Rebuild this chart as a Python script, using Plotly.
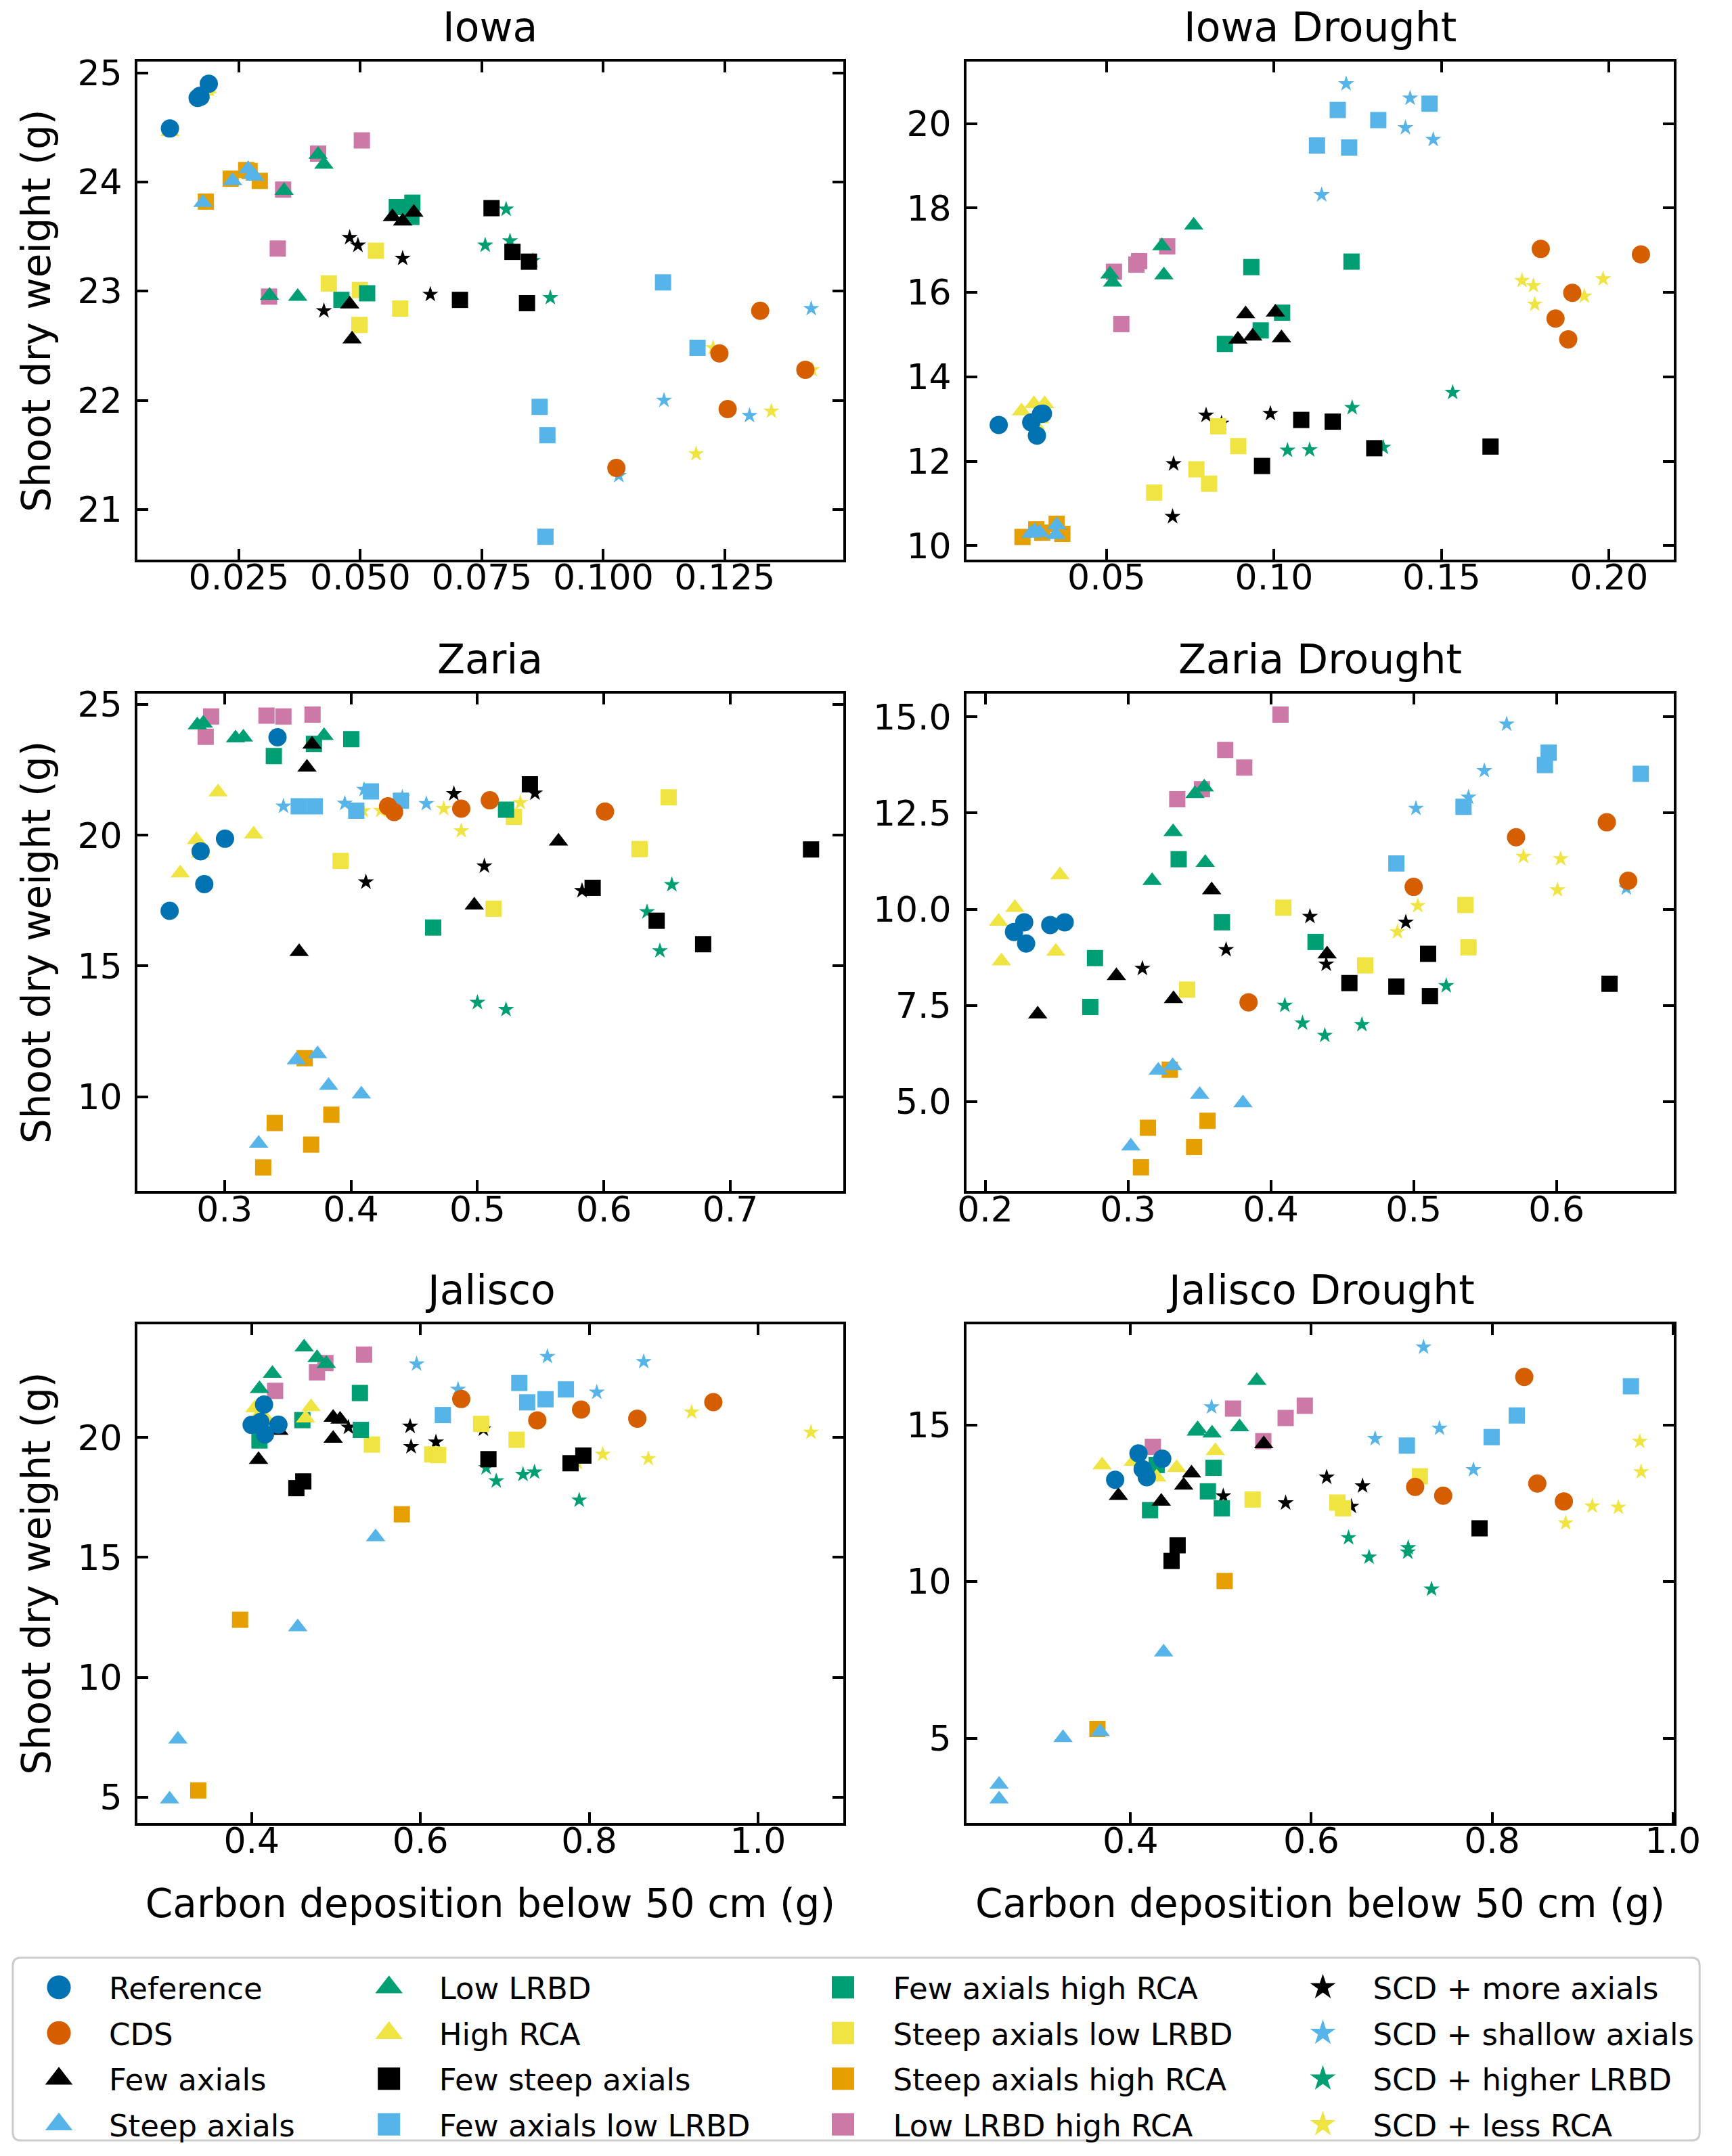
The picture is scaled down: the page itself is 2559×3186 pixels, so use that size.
import plotly.graph_objects as go

# ---------------- data ----------------
SERIES = ["Reference", "CDS", "Few axials", "Steep axials", "Low LRBD", "High RCA",
          "Few steep axials", "Few axials low LRBD", "Few axials high RCA",
          "Steep axials low LRBD", "Steep axials high RCA", "Low LRBD high RCA",
          "SCD + more axials", "SCD + shallow axials", "SCD + higher LRBD", "SCD + less RCA"]
PANELS = ["Iowa", "Iowa Drought", "Zaria", "Zaria Drought", "Jalisco", "Jalisco Drought"]
X_TITLE = "Carbon deposition below 50 cm (g)"
Y_TITLE = "Shoot dry weight (g)"

iowa_x = [
    [0.0108, 0.0165, 0.0171, 0.0188, 0.0170],
    [0.1323, 0.1239, 0.1416, 0.1256, 0.1027],
    [0.0566, 0.0587, 0.0610, 0.0478, 0.0483],
    [0.0176, 0.0237, 0.0269, 0.0283, 0.0278],
    [0.0413, 0.0425, 0.0343, 0.0313, 0.0371],
    [0.0108, 0.0168, 0.0180, 0.0172, 0.0185],
    [0.0770, 0.0813, 0.0847, 0.0705, 0.0843],
    [0.1123, 0.1194, 0.0869, 0.0885, 0.0881],
    [0.0575, 0.0607, 0.0605, 0.0461, 0.0514],
    [0.0532, 0.0435, 0.0499, 0.0582, 0.0498],
    [0.0233, 0.0265, 0.0272, 0.0293, 0.0182],
    [0.0503, 0.0413, 0.0341, 0.0330, 0.0312],
    [0.0478, 0.0495, 0.0587, 0.0644, 0.0425],
    [0.1428, 0.1125, 0.1301, 0.1032],
    [0.0800, 0.0757, 0.0808, 0.0855, 0.0891],
    [0.1226, 0.1430, 0.1346, 0.1191, 0.1025],
]
iowa_y = [
    [24.49, 24.77, 24.78, 24.90, 24.79],
    [22.82, 22.43, 22.28, 21.92, 21.38],
    [23.68, 23.64, 23.72, 22.88, 22.56],
    [23.81, 24.01, 24.12, 24.05, 24.07],
    [24.25, 24.16, 23.92, 22.96, 22.95],
    [24.46, 24.76, 24.83, 24.80, 24.85],
    [23.76, 23.36, 23.27, 22.92, 22.89],
    [23.08, 22.48, 21.94, 21.68, 20.75],
    [23.77, 23.81, 23.68, 22.92, 22.98],
    [23.37, 23.07, 23.01, 22.84, 22.69],
    [24.03, 24.11, 24.10, 24.01, 23.82],
    [24.38, 24.26, 23.93, 23.39, 22.95],
    [23.49, 23.42, 23.30, 22.97, 22.82],
    [22.84, 22.00, 21.86, 21.31],
    [23.75, 23.42, 23.46, 23.28, 22.94],
    [22.48, 22.28, 21.90, 21.51, 21.36],
]

iowa_drought_x = [
    [0.0178, 0.0275, 0.0304, 0.0292, 0.0310],
    [0.1796, 0.2095, 0.1890, 0.1840, 0.1878],
    [0.0915, 0.1004, 0.0892, 0.0936, 0.1022],
    [0.0274, 0.0301, 0.0351, 0.0349, 0.0285],
    [0.0760, 0.0665, 0.0671, 0.0510, 0.0518],
    [0.0246, 0.0283, 0.0315, 0.0287, 0.0300],
    [0.1081, 0.1175, 0.1299, 0.1646, 0.0964],
    [0.1190, 0.1464, 0.1311, 0.1128, 0.1224],
    [0.0932, 0.1231, 0.1024, 0.0960, 0.0853],
    [0.0833, 0.0893, 0.0768, 0.0806, 0.0642],
    [0.0249, 0.0290, 0.0351, 0.0368, 0.0308],
    [0.0522, 0.0589, 0.0597, 0.0681, 0.0544],
    [0.0797, 0.0843, 0.0989, 0.0700, 0.0697],
    [0.1215, 0.1406, 0.1392, 0.1475, 0.1142],
    [0.1533, 0.1233, 0.1040, 0.1106, 0.1326],
    [0.1740, 0.1774, 0.1778, 0.1926, 0.1982],
]
iowa_drought_y = [
    [12.86, 12.92, 13.12, 12.61, 13.13],
    [17.03, 16.90, 15.99, 15.38, 14.89],
    [15.49, 15.53, 14.89, 14.96, 14.92],
    [10.29, 10.31, 10.49, 10.26, 10.35],
    [17.59, 17.10, 16.41, 16.43, 16.24],
    [13.19, 13.36, 13.36, 12.86, 13.00],
    [12.98, 12.94, 12.31, 12.35, 11.89],
    [20.32, 20.47, 20.08, 19.48, 19.43],
    [16.60, 16.73, 15.52, 15.10, 14.78],
    [12.83, 12.36, 11.81, 11.47, 11.26],
    [10.21, 10.39, 10.52, 10.28, 10.31],
    [16.49, 16.66, 16.74, 17.09, 15.25],
    [13.09, 12.90, 13.13, 11.94, 10.69],
    [20.94, 20.60, 19.90, 19.62, 18.31],
    [13.63, 13.27, 12.26, 12.27, 12.33],
    [16.28, 16.16, 15.72, 15.91, 16.32],
]

zaria_x = [
    [0.3419, 0.3004, 0.2811, 0.2840, 0.2566],
    [0.4293, 0.4341, 0.4872, 0.5098, 0.6009],
    [0.3692, 0.3652, 0.5641, 0.4975, 0.3590],
    [0.3568, 0.3736, 0.3823, 0.4082, 0.3270],
    [0.2785, 0.2832, 0.3087, 0.3149, 0.3787],
    [0.2949, 0.3230, 0.2778, 0.2650, 0.2810],
    [0.5415, 0.5911, 0.6417, 0.6785, 0.7638],
    [0.3587, 0.3714, 0.4158, 0.4042, 0.4395],
    [0.3390, 0.3707, 0.4002, 0.5226, 0.4650],
    [0.3918, 0.5288, 0.5128, 0.6282, 0.6512],
    [0.3634, 0.3845, 0.3397, 0.3685, 0.3306],
    [0.2894, 0.3332, 0.3466, 0.3696, 0.2851],
    [0.4814, 0.5455, 0.5055, 0.4118, 0.5827],
    [0.3466, 0.3951, 0.4104, 0.4406, 0.4596],
    [0.6537, 0.6341, 0.6443, 0.5000, 0.5226],
    [0.4235, 0.4734, 0.5339, 0.4872, 0.4097],
]
zaria_y = [
    [23.75, 19.87, 19.39, 18.13, 17.11],
    [21.11, 20.89, 21.02, 21.34, 20.91],
    [23.48, 22.60, 19.77, 17.32, 15.54],
    [11.40, 11.63, 10.42, 10.09, 8.21],
    [24.22, 24.28, 23.72, 23.75, 23.81],
    [21.65, 20.04, 19.83, 18.55, 19.30],
    [21.95, 17.99, 16.73, 15.83, 19.46],
    [21.11, 21.11, 21.68, 20.94, 21.32],
    [23.03, 23.50, 23.68, 20.98, 16.47],
    [19.02, 20.71, 17.19, 19.47, 21.45],
    [11.47, 9.31, 8.99, 8.16, 7.29],
    [24.55, 24.58, 24.55, 24.62, 23.77],
    [21.59, 21.61, 18.82, 18.21, 17.88],
    [21.11, 21.22, 21.75, 21.45, 21.21],
    [18.11, 17.07, 15.58, 13.60, 13.33],
    [20.95, 21.02, 21.25, 20.17, 20.94],
]

zaria_drought_x = [
    [0.2274, 0.2202, 0.2287, 0.2456, 0.2557],
    [0.5717, 0.6352, 0.5000, 0.6502, 0.3844],
    [0.3586, 0.4394, 0.2919, 0.3319, 0.2368],
    [0.3212, 0.3313, 0.3502, 0.3805, 0.3020],
    [0.3469, 0.3534, 0.3316, 0.3541, 0.3169],
    [0.2524, 0.2208, 0.2094, 0.2495, 0.2114],
    [0.5101, 0.4550, 0.4879, 0.5114, 0.6371],
    [0.5945, 0.5919, 0.6590, 0.5349, 0.4879],
    [0.3355, 0.3658, 0.4313, 0.2769, 0.2736],
    [0.4088, 0.5362, 0.5384, 0.4661, 0.3414],
    [0.3293, 0.3557, 0.3140, 0.3463, 0.3091],
    [0.4068, 0.3681, 0.3814, 0.3345, 0.3518],
    [0.4274, 0.4945, 0.3687, 0.4388, 0.3101],
    [0.5651, 0.5495, 0.5384, 0.5016, 0.6489],
    [0.5228, 0.4098, 0.4222, 0.4378, 0.4638],
    [0.5769, 0.6029, 0.6007, 0.5029, 0.4886],
]
zaria_drought_y = [
    [9.66, 9.41, 9.11, 9.59, 9.66],
    [11.87, 12.26, 10.58, 10.74, 7.58],
    [10.50, 8.83, 8.27, 7.67, 7.27],
    [5.81, 5.93, 5.18, 4.96, 3.84],
    [13.00, 13.17, 12.01, 11.21, 10.74],
    [10.89, 10.04, 9.68, 8.90, 8.65],
    [8.84, 8.08, 7.99, 7.74, 8.06],
    [14.07, 13.75, 13.52, 12.66, 11.19],
    [11.30, 9.66, 9.15, 8.73, 7.46],
    [10.04, 10.11, 9.01, 8.54, 7.91],
    [5.83, 4.50, 4.32, 3.82, 3.29],
    [15.06, 14.14, 13.68, 12.86, 13.12],
    [9.81, 9.66, 8.95, 8.57, 8.46],
    [14.81, 13.60, 12.91, 12.62, 10.55],
    [8.01, 7.50, 7.04, 6.72, 7.00],
    [11.37, 11.31, 10.50, 10.09, 9.41],
]

jalisco_x = [
    [0.4147, 0.4000, 0.4104, 0.4317, 0.4158],
    [0.6484, 0.7904, 0.7385, 0.8570, 0.9471],
    [0.4966, 0.5048, 0.4322, 0.4966, 0.4082],
    [0.5469, 0.4546, 0.3126, 0.3028],
    [0.4622, 0.4775, 0.4885, 0.4246, 0.4093],
    [0.4038, 0.4704, 0.4639, 0.4175, 0.4100],
    [0.4530, 0.4612, 0.6806, 0.7779, 0.7931],
    [0.7172, 0.7724, 0.7265, 0.7483, 0.6266],
    [0.5283, 0.4601, 0.5294, 0.4093],
    [0.6719, 0.7140, 0.5425, 0.6140, 0.6211],
    [0.5780, 0.3863, 0.3367],
    [0.5332, 0.4874, 0.4775, 0.4278],
    [0.5147, 0.5878, 0.5889, 0.6184, 0.6746],
    [0.5955, 0.7505, 0.8646, 0.6446, 0.8090],
    [0.6779, 0.6899, 0.7216, 0.7352, 0.7882],
    [0.9214, 1.0628, 0.8161, 0.8701, 0.7860],
]
jalisco_y = [
    [21.38, 20.53, 20.65, 20.54, 20.13],
    [21.61, 21.17, 20.72, 20.79, 21.48],
    [20.84, 20.76, 20.29, 19.96, 19.08],
    [15.85, 12.10, 7.41, 4.91],
    [23.77, 23.33, 23.08, 22.67, 22.04],
    [21.23, 21.28, 20.81, 20.76, 21.00],
    [17.89, 18.17, 19.10, 18.93, 19.25],
    [22.28, 22.01, 21.47, 21.60, 20.94],
    [21.86, 20.73, 20.32, 19.88],
    [20.57, 19.91, 19.71, 19.30, 19.27],
    [16.80, 12.40, 5.28],
    [23.46, 23.11, 22.72, 21.95],
    [20.43, 20.47, 19.62, 19.81, 20.35],
    [23.07, 23.38, 23.17, 22.01, 21.89],
    [18.74, 18.19, 18.46, 18.56, 17.39],
    [21.06, 20.22, 19.30, 19.12, 18.95],
]

jalisco_drought_x = [
    [0.4088, 0.4351, 0.4134, 0.4180, 0.3830],
    [0.8356, 0.8500, 0.7149, 0.7459, 0.8794],
    [0.5474, 0.4675, 0.4588, 0.4340, 0.3866],
    [0.4366, 0.3665, 0.3253, 0.2546, 0.2546],
    [0.5397, 0.4742, 0.5206, 0.4902, 0.4727],
    [0.4938, 0.3686, 0.4510, 0.4031, 0.4289],
    [0.7861, 0.4521, 0.4454],
    [0.9536, 0.8273, 0.7995, 0.7057],
    [0.4918, 0.4289, 0.4856, 0.5010, 0.4216],
    [0.7201, 0.5351, 0.6289, 0.6351],
    [0.5041, 0.3634],
    [0.5928, 0.5134, 0.5716, 0.5469, 0.4247],
    [0.6170, 0.6567, 0.5026, 0.5716, 0.6443],
    [0.7242, 0.4897, 0.7418, 0.6706, 0.7794],
    [0.6412, 0.6639, 0.7072, 0.7067, 0.7330],
    [0.9634, 0.9649, 0.9108, 0.9397, 0.8814],
]
jalisco_drought_y = [
    [14.09, 13.92, 13.59, 13.33, 13.25],
    [16.53, 13.13, 13.02, 12.74, 12.56],
    [14.39, 13.46, 13.07, 12.56, 12.74],
    [7.75, 5.21, 5.02, 3.53, 3.06],
    [16.41, 14.87, 14.93, 14.73, 14.79],
    [14.17, 13.72, 13.63, 13.83, 13.33],
    [11.70, 11.16, 10.66],
    [16.23, 15.30, 14.61, 14.34],
    [13.63, 13.72, 12.88, 12.34, 12.28],
    [13.36, 12.62, 12.52, 12.34],
    [10.02, 5.30],
    [15.61, 15.52, 15.22, 14.48, 14.30],
    [13.33, 13.05, 12.73, 12.51, 12.40],
    [17.48, 15.57, 14.89, 14.56, 13.57],
    [11.40, 10.78, 11.08, 10.94, 9.76],
    [14.47, 13.50, 12.41, 12.37, 11.87],
]

PANEL_X = [iowa_x, iowa_drought_x, zaria_x, zaria_drought_x, jalisco_x, jalisco_drought_x]
PANEL_Y = [iowa_y, iowa_drought_y, zaria_y, zaria_drought_y, jalisco_y, jalisco_drought_y]

# ---------------- styles / layout ----------------
FONT = "DejaVu Sans"
W, H = 2559, 3186
COLORS = ["#0072B2", "#D55E00", "#000000", "#56B4E9", "#009E73", "#F0E442",
          "#000000", "#56B4E9", "#009E73", "#F0E442", "#E69F00", "#CC79A7",
          "#000000", "#56B4E9", "#009E73", "#F0E442"]
SYMBOLS = ["circle"] * 2 + ["triangle-up"] * 4 + ["square"] * 6 + ["star"] * 4
SIZES = {"circle": 27, "triangle-up": 25, "square": 24, "star": 18}
LEG_SIZES = {"circle": 16, "triangle-up": 16, "square": 15, "star": 13}

COL_PX = [(194, 1259), (1445, 2512)]
ROW_PX = [(78, 819), (1018, 1759), (1957, 2699)]
X_RANGES = [[0.0041, 0.1494], [0.0082, 0.2193], [0.2311, 0.7893],
            [0.1870, 0.6821], [0.2646, 1.1011], [0.2186, 1.0010]]
Y_RANGES = [[20.54, 25.10], [9.67, 21.46], [6.38, 25.43],
            [2.67, 15.61], [3.93, 24.73], [2.31, 18.21]]
X_DTICK = [0.025, 0.05, 0.1, 0.1, 0.2, 0.2]
X_FMT = [".3f", ".2f", ".1f", ".1f", ".1f", ".1f"]
Y_DTICK = [1, 2, 5, 2.5, 5, 5]
Y_FMT = ["d", "d", "d", ".1f", "d", "d"]

fig = go.Figure()

axis_common = dict(showline=True, linecolor="black", linewidth=4, mirror="ticks",
                   ticks="inside", ticklen=16, tickwidth=4, tickcolor="black",
                   showgrid=False, zeroline=False,
                   tickfont=dict(family=FONT, size=52, color="black"))

layout = dict(width=W, height=H, margin=dict(l=0, r=0, t=0, b=0),
              paper_bgcolor="white", plot_bgcolor="white",
              font=dict(family=FONT, color="black"), annotations=[], shapes=[])

for p in range(6):
    r, c = p // 2, p % 2
    sfx = "" if p == 0 else str(p + 1)
    xd = [COL_PX[c][0] / W, COL_PX[c][1] / W]
    yd = [1 - ROW_PX[r][1] / H, 1 - ROW_PX[r][0] / H]
    xa = dict(axis_common, domain=xd, anchor="y" + sfx, range=X_RANGES[p],
              tick0=0, dtick=X_DTICK[p], tickformat=X_FMT[p], ticklabelstandoff=-22)
    ya = dict(axis_common, domain=yd, anchor="x" + sfx, range=Y_RANGES[p],
              tick0=0, dtick=Y_DTICK[p], tickformat=Y_FMT[p], ticklabelstandoff=8)
    if r == 2:
        xa["title"] = dict(text=X_TITLE, font=dict(family=FONT, size=58, color="black"), standoff=44)
    if c == 0:
        ya["title"] = dict(text=Y_TITLE, font=dict(family=FONT, size=58, color="black"), standoff=22)
    layout["xaxis" + sfx] = xa
    layout["yaxis" + sfx] = ya
    layout["annotations"].append(dict(
        text=PANELS[p], x=(xd[0] + xd[1]) / 2, y=yd[1], xref="paper", yref="paper",
        xanchor="center", yanchor="bottom", yshift=14, showarrow=False,
        font=dict(family=FONT, size=60, color="black")))
    # draw in reverse order so the first series sit on top
    for s in reversed(range(16)):
        fig.add_trace(go.Scatter(
            x=PANEL_X[p][s], y=PANEL_Y[p][s], mode="markers", name=SERIES[s],
            xaxis="x" + sfx, yaxis="y" + sfx, showlegend=False,
            marker=dict(symbol=SYMBOLS[s], color=COLORS[s], size=SIZES[SYMBOLS[s]],
                        line=dict(width=0))))

# legend entries (4 columns, filled column-wise)
LEG_TEXT_X = [148, 646, 1331, 2055]
ITEMW = 138
for k in range(4):
    key = "legend" if k == 0 else "legend%d" % (k + 1)
    layout[key] = dict(x=max(0, LEG_TEXT_X[k] - ITEMW - 10) / W, xanchor="left",
                       y=1 - 2908 / H, yanchor="top", orientation="v",
                       font=dict(family=FONT, size=45, color="black"),
                       bgcolor="rgba(0,0,0,0)", borderwidth=0, itemwidth=ITEMW,
                       tracegroupgap=6, itemclick=False, itemdoubleclick=False)
    for s in range(4 * k, 4 * k + 4):
        fig.add_trace(go.Scatter(
            x=[None], y=[None], mode="markers", name=SERIES[s], legend=key,
            legendgroup=SERIES[s], showlegend=True, xaxis="x", yaxis="y",
            marker=dict(symbol=SYMBOLS[s], color=COLORS[s], size=LEG_SIZES[SYMBOLS[s]],
                        line=dict(width=0))))

# legend frame (rounded)
x0, x1 = 6 / W, 2551 / W
y0, y1 = 1 - 3172 / H, 1 - 2900 / H
rx, ry = 12 / W, 12 / H
path = (f"M {x0+rx},{y1} L {x1-rx},{y1} Q {x1},{y1} {x1},{y1-ry} "
        f"L {x1},{y0+ry} Q {x1},{y0} {x1-rx},{y0} L {x0+rx},{y0} "
        f"Q {x0},{y0} {x0},{y0+ry} L {x0},{y1-ry} Q {x0},{y1} {x0+rx},{y1} Z")
layout["shapes"].append(dict(type="path", path=path, xref="paper", yref="paper",
                             line=dict(color="#cccccc", width=3), fillcolor="rgba(0,0,0,0)",
                             layer="below"))

fig.update_layout(layout)

POST = """
document.body.style.margin = '0';
var gd = document.getElementById('{plot_id}');
gd.querySelectorAll('.legendpoints path.scatterpts').forEach(function (p) {
    var t = p.getAttribute('transform') || '';
    p.setAttribute('transform', t + ' scale(2.2)');
});
"""
fig.write_html("out.html", post_script=POST, config={"displayModeBar": False})
